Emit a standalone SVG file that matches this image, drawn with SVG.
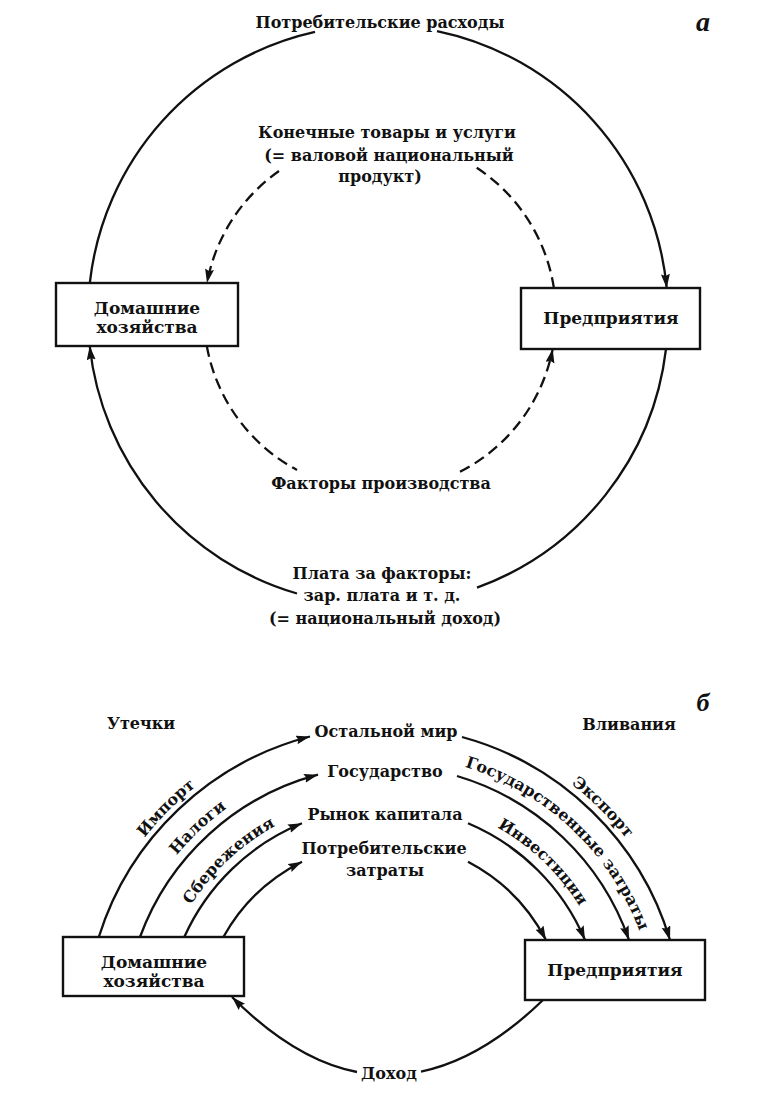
<svg xmlns="http://www.w3.org/2000/svg" width="770" height="1100" viewBox="0 0 770 1100">
<style>
.t{font-family:"DejaVu Serif","Liberation Serif",serif;font-weight:bold;font-size:16px;fill:#111;text-anchor:middle}
.bt{font-size:17px}
.ln{fill:none;stroke:#111;stroke-width:2.3}
.ds{stroke-dasharray:11 6}
.box{fill:#fff;stroke:#111;stroke-width:2.4}
.it{font-family:"Liberation Serif",serif;font-style:italic;font-weight:bold;fill:#111;text-anchor:middle}
</style>
<defs>
<marker id="ah" markerUnits="userSpaceOnUse" markerWidth="15" markerHeight="10" refX="14" refY="4.5" orient="auto"><path d="M0,0 L14,4.5 L0,9 L2,4.5 z" fill="#111"/></marker>
<path id="pImp" d="M 79 1027 A 306 306 0 0 1 385 721"/>
<path id="pNal" d="M 115 1027 A 270 270 0 0 1 385 757"/>
<path id="pSb" d="M 156 1027 A 229 229 0 0 1 385 798"/>
<path id="pExp" d="M 385 721 A 306 306 0 0 1 691 1027"/>
<path id="pGz" d="M 385 755 A 272 272 0 0 1 657 1027"/>
<path id="pInv" d="M 385 798 A 229 229 0 0 1 614 1027"/>
</defs>
<rect width="770" height="1100" fill="#fff"/>

<!-- Part a -->
<g id="connectors-a">
<path class="ln" d="M 89.8 283 A 290 290 0 0 1 315 31.9"/>
<path class="ln" d="M 437 31.1 A 290 290 0 0 1 666.7 288" marker-end="url(#ah)"/>
<path class="ln" d="M 666 349 A 290 290 0 0 1 477 587.6"/>
<path class="ln" d="M 297 593.5 A 290 290 0 0 1 89.7 346" marker-end="url(#ah)"/>
<path class="ln ds" d="M 553.9 288 A 176 176 0 0 0 474 166"/>
<path class="ln ds" d="M 279 171 A 176 176 0 0 0 207 283" marker-end="url(#ah)"/>
<path class="ln ds" d="M 206.8 346 A 176 176 0 0 0 297 470"/>
<path class="ln ds" d="M 460 471.8 A 176 176 0 0 0 552.7 349" marker-end="url(#ah)"/>
</g>
<g id="labels-a">
<text class="t" x="380" y="28">Потребительские расходы</text>
<text class="it" x="703" y="31" font-size="28">a</text>
<text class="t" x="387" y="138">Конечные товары и услуги</text>
<text class="t" x="389" y="161">(= валовой национальный</text>
<text class="t" x="380" y="182">продукт)</text>
<text class="t" x="381" y="489">Факторы производства</text>
<text class="t" x="382" y="579">Плата за факторы:</text>
<text class="t" x="382" y="601">зар. плата и т. д.</text>
<text class="t" x="385" y="624">(= национальный доход)</text>
</g>
<g id="households-a">
<rect class="box" x="56" y="283" width="182" height="63"/>
<text class="t bt" x="147" y="314">Домашние</text>
<text class="t bt" x="147" y="333">хозяйства</text>
</g>
<g id="firms-a">
<rect class="box" x="521" y="288" width="179" height="61"/>
<text class="t bt" x="611" y="324">Предприятия</text>
</g>

<!-- Part b -->
<g id="connectors-b">
<path class="ln" d="M 98.8 937 A 300 300 0 0 1 310 736.5" marker-end="url(#ah)"/>
<path class="ln" d="M 140 937 A 261 261 0 0 1 318 774.7" marker-end="url(#ah)"/>
<path class="ln" d="M 184.3 937 A 220 220 0 0 1 302 823.3" marker-end="url(#ah)"/>
<path class="ln" d="M 223.4 937 A 185 185 0 0 1 302 861.7" marker-end="url(#ah)"/>
<path class="ln" d="M 462 737 A 300 300 0 0 1 670 940" marker-end="url(#ah)"/>
<path class="ln" d="M 457 776 A 261 261 0 0 1 629 940" marker-end="url(#ah)"/>
<path class="ln" d="M 468 823.3 A 220 220 0 0 1 585 940" marker-end="url(#ah)"/>
<path class="ln" d="M 468 861.7 A 185 185 0 0 1 546 940" marker-end="url(#ah)"/>
<path class="ln" d="M 543 1000 Q 482 1059 421 1071.6"/>
<path class="ln" d="M 357 1072 Q 295 1060 232 997" marker-end="url(#ah)"/>
</g>
<g id="labels-b">
<text class="it" x="703" y="711" font-size="26">б</text>
<text class="t" x="141" y="729">Утечки</text>
<text class="t" x="629" y="730">Вливания</text>
<text class="t" x="386" y="737">Остальной мир</text>
<text class="t" x="385" y="777">Государство</text>
<text class="t" x="385" y="820">Рынок капитала</text>
<text class="t" x="384" y="854">Потребительские</text>
<text class="t" x="385" y="876">затраты</text>
<text class="t" x="389" y="1079">Доход</text>
<text class="t"><textPath href="#pImp" startOffset="50%">Импорт</textPath></text>
<text class="t"><textPath href="#pNal" startOffset="52%">Налоги</textPath></text>
<text class="t"><textPath href="#pSb" startOffset="52%">Сбережения</textPath></text>
<text class="t"><textPath href="#pExp" startOffset="49.7%">Экспорт</textPath></text>
<text class="t"><textPath href="#pGz" startOffset="48%">Государственные затраты</textPath></text>
<text class="t"><textPath href="#pInv" startOffset="48.6%">Инвестиции</textPath></text>
</g>
<g id="households-b">
<rect class="box" x="63" y="937" width="181" height="59"/>
<text class="t bt" x="154" y="968">Домашние</text>
<text class="t bt" x="154" y="987">хозяйства</text>
</g>
<g id="firms-b">
<rect class="box" x="525" y="940" width="180" height="60"/>
<text class="t bt" x="615" y="976">Предприятия</text>
</g>
</svg>
